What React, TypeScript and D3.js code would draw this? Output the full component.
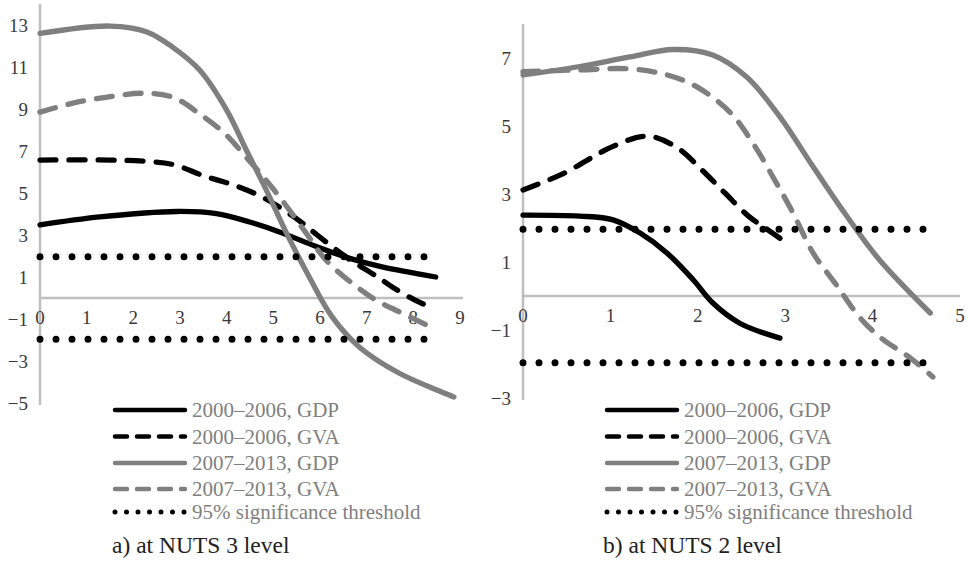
import { useRef, useEffect } from "react";
import * as d3 from "d3";

type Pt = [number, number];

// a) NUTS 3 level
const nuts3Gdp0006: Pt[] = [
  [0, 3.48], [1.28, 3.86], [2.93, 4.12], [3.78, 4.02], [4.49, 3.62], [5.19, 3.1],
  [5.92, 2.45], [6.62, 1.9], [7.33, 1.48], [8.48, 1.0],
];
const nuts3Gva0006: Pt[] = [
  [0, 6.57], [1.5, 6.57], [2.3, 6.5], [2.86, 6.35], [3.53, 5.8], [4.19, 5.35],
  [4.81, 4.75], [5.45, 3.85], [5.94, 3.0], [6.56, 1.95], [7.2, 1.05], [7.6, 0.45],
  [8.08, -0.15], [8.44, -0.5],
];
const nuts3Gdp0713: Pt[] = [
  [0, 12.6], [1.5, 12.95], [2.29, 12.67], [2.84, 11.95], [3.42, 10.86], [4.0, 8.95],
  [4.42, 7.05], [4.85, 5.14], [5.28, 3.1], [5.77, 1.0], [6.26, -0.9], [6.84, -2.33],
  [7.69, -3.57], [8.87, -4.71],
];
const nuts3Gva0713: Pt[] = [
  [0, 8.85], [0.75, 9.3], [1.54, 9.6], [2.2, 9.75], [2.86, 9.55], [3.46, 8.7],
  [3.95, 7.85], [4.42, 6.7], [4.85, 5.6], [5.24, 4.5], [5.7, 3.1], [6.13, 1.8],
  [6.69, 0.7], [7.2, -0.1], [7.74, -0.7], [8.48, -1.5],
];
const nuts3DotEnd = 8.57;
const nuts3XTicks = [0, 1, 2, 3, 4, 5, 6, 7, 8, 9];
const nuts3YTicks = [-5, -3, -1, 1, 3, 5, 7, 9, 11, 13];

// b) NUTS 2 level
const nuts2Gdp0006: Pt[] = [
  [0, 2.38], [0.65, 2.35], [1.03, 2.24], [1.34, 1.85], [1.65, 1.26], [1.95, 0.47],
  [2.17, -0.2], [2.48, -0.8], [2.94, -1.24],
];
const nuts2Gva0006: Pt[] = [
  [0, 3.12], [0.46, 3.6], [1.03, 4.4], [1.43, 4.7], [1.77, 4.35], [2.05, 3.7],
  [2.31, 3.03], [2.58, 2.35], [2.8, 1.95], [2.94, 1.7],
];
const nuts2Gdp0713: Pt[] = [
  [0, 6.5], [0.65, 6.75], [1.22, 7.03], [1.72, 7.25], [2.17, 7.09], [2.56, 6.44],
  [2.94, 5.27], [3.32, 3.8], [3.71, 2.33], [4.08, 1.06], [4.66, -0.5],
];
const nuts2Gva0713: Pt[] = [
  [0, 6.6], [0.65, 6.65], [1.22, 6.68], [1.65, 6.5], [1.99, 6.15], [2.37, 5.4],
  [2.63, 4.5], [2.86, 3.5], [3.09, 2.44], [3.32, 1.26], [3.57, 0.38], [3.86, -0.65],
  [4.1, -1.24], [4.43, -1.82], [4.69, -2.38],
];
const nuts2DotEnd = 4.61;
const nuts2XTicks = [0, 1, 2, 3, 4, 5];
const nuts2YTicks = [-3, -1, 1, 3, 5, 7];

const threshold = 1.96;
const seriesNames = [
  "2000–2006, GDP",
  "2000–2006, GVA",
  "2007–2013, GDP",
  "2007–2013, GVA",
  "95% significance threshold",
];

const FONT = "Liberation Serif, DejaVu Serif, serif";
const GREY = "#7f7f7f";
const AXIS = "#bfbfbf";

export default function App() {
  const ref = useRef<SVGSVGElement>(null);

  useEffect(() => {
    const svg = d3.select(ref.current);
    svg.selectAll("*").remove();

    const panels = [
      {
        series: [nuts3Gdp0006, nuts3Gva0006, nuts3Gdp0713, nuts3Gva0713],
        dotEnd: nuts3DotEnd,
        xTicks: nuts3XTicks,
        yTicks: nuts3YTicks,
        x: d3.scaleLinear().domain([0, 9]).range([40, 460]),
        y: d3.scaleLinear().domain([-5, 14]).range([403, 4]),
        axisTop: 4,
        axisBottom: 405,
        zeroEnd: 463,
        legendX: 115,
        caption: "a) at NUTS 3 level",
        captionX: 112,
      },
      {
        series: [nuts2Gdp0006, nuts2Gva0006, nuts2Gdp0713, nuts2Gva0713],
        dotEnd: nuts2DotEnd,
        xTicks: nuts2XTicks,
        yTicks: nuts2YTicks,
        x: d3.scaleLinear().domain([0, 5]).range([523, 960]),
        y: d3.scaleLinear().domain([-3, 8]).range([398, 24]),
        axisTop: 24,
        axisBottom: 400,
        zeroEnd: 960,
        legendX: 607,
        caption: "b) at NUTS 2 level",
        captionX: 603,
      },
    ];

    const styles = [
      { color: "#000", dash: null, legendDash: null },
      { color: "#000", dash: "16 13", legendDash: "12 10" },
      { color: GREY, dash: null, legendDash: null },
      { color: GREY, dash: "16 13", legendDash: "12 10" },
    ];
    const fmt = d3.format("d");

    panels.forEach((p) => {
      const g = svg.append("g");
      const x0 = p.x(0);

      // axes
      g.append("line")
        .attr("x1", x0).attr("x2", x0)
        .attr("y1", p.axisTop).attr("y2", p.axisBottom)
        .attr("stroke", AXIS).attr("stroke-width", 2.5);
      g.append("line")
        .attr("x1", x0).attr("x2", p.zeroEnd)
        .attr("y1", p.y(0)).attr("y2", p.y(0))
        .attr("stroke", AXIS).attr("stroke-width", 2.5);

      g.selectAll(".ytick")
        .data(p.yTicks)
        .join("text")
        .attr("x", x0 - 12)
        .attr("y", (d) => p.y(d))
        .attr("text-anchor", "end")
        .attr("dominant-baseline", "central")
        .attr("font-family", FONT)
        .attr("font-size", 19)
        .attr("fill", "#3a3a3a")
        .text((d) => fmt(d));

      g.selectAll(".xtick")
        .data(p.xTicks)
        .join("text")
        .attr("x", (d) => p.x(d))
        .attr("y", p.y(0) + 19)
        .attr("text-anchor", "middle")
        .attr("dominant-baseline", "central")
        .attr("font-family", FONT)
        .attr("font-size", 19)
        .attr("fill", "#3a3a3a")
        .text((d) => fmt(d));

      const line = d3
        .line<Pt>()
        .x((d) => p.x(d[0]))
        .y((d) => p.y(d[1]))
        .curve(d3.curveCatmullRom.alpha(0.5));

      p.series.forEach((s, i) => {
        g.append("path")
          .attr("d", line(s))
          .attr("fill", "none")
          .attr("stroke", styles[i].color)
          .attr("stroke-width", 5.3)
          .attr("stroke-linecap", "round")
          .attr("stroke-dasharray", styles[i].dash);
      });

      // significance threshold
      [threshold, -threshold].forEach((t) => {
        g.append("line")
          .attr("x1", p.x(0)).attr("x2", p.x(p.dotEnd))
          .attr("y1", p.y(t)).attr("y2", p.y(t))
          .attr("stroke", "#000")
          .attr("stroke-width", 7)
          .attr("stroke-linecap", "round")
          .attr("stroke-dasharray", "0 16");
      });

      // legend
      const rows = [410, 436.5, 463, 489, 512];
      seriesNames.forEach((name, i) => {
        const st = styles[i];
        const ln = g.append("line")
          .attr("x1", p.legendX).attr("x2", p.legendX + 70)
          .attr("y1", rows[i]).attr("y2", rows[i])
          .attr("stroke-linecap", "round");
        if (st) {
          ln.attr("stroke", st.color).attr("stroke-width", 4.5)
            .attr("stroke-dasharray", st.legendDash);
        } else {
          ln.attr("stroke", "#000").attr("stroke-width", 5)
            .attr("stroke-dasharray", "0 11.5");
        }
        g.append("text")
          .attr("x", p.legendX + 77)
          .attr("y", rows[i])
          .attr("dominant-baseline", "central")
          .attr("font-family", FONT)
          .attr("font-size", 21)
          .attr("fill", GREY)
          .text(name);
      });

      g.append("text")
        .attr("x", p.captionX)
        .attr("y", 553)
        .attr("font-family", FONT)
        .attr("font-size", 23.5)
        .attr("fill", "#222")
        .text(p.caption);
    });
  }, []);

  return (
    <svg
      ref={ref}
      width={968}
      height={570}
      style={{ position: "absolute", left: 0, top: 0, background: "#fff" }}
    />
  );
}
